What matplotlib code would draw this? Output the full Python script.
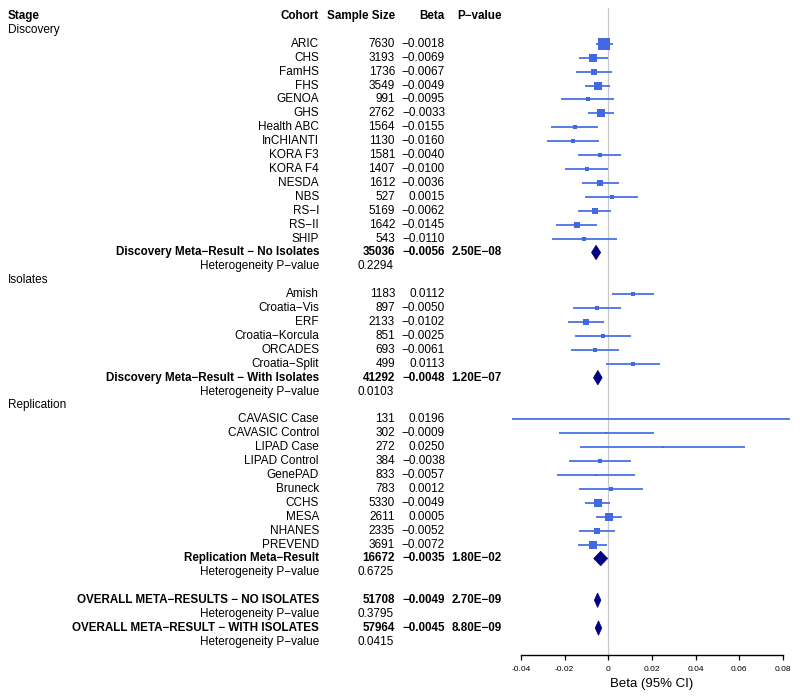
import matplotlib
matplotlib.use('Agg')
import matplotlib.pyplot as plt
from matplotlib.transforms import blended_transform_factory
from matplotlib.patches import Polygon

plt.rcParams['font.family'] = ['Liberation Sans', 'DejaVu Sans']

M = '\u2212'

# ---------------- data ----------------
disc_cohorts = ['ARIC', 'CHS', 'FamHS', 'FHS', 'GENOA', 'GHS', 'Health ABC', 'InCHIANTI',
                'KORA F3', 'KORA F4', 'NESDA', 'NBS', 'RS' + M + 'I', 'RS' + M + 'II', 'SHIP']
disc_n = [7630, 3193, 1736, 3549, 991, 2762, 1564, 1130, 1581, 1407, 1612, 527, 5169, 1642, 543]
disc_beta = [-0.0018, -0.0069, -0.0067, -0.0049, -0.0095, -0.0033, -0.0155, -0.0160,
             -0.0040, -0.0100, -0.0036, 0.0015, -0.0062, -0.0145, -0.0110]
disc_lo = [-0.0057, -0.0136, -0.0149, -0.0106, -0.0218, -0.0093, -0.0264, -0.0279,
           -0.0139, -0.0199, -0.0119, -0.0107, -0.0138, -0.0238, -0.0260]
disc_hi = [0.0021, -0.0002, 0.0015, 0.0008, 0.0028, 0.0027, -0.0046, -0.0041,
           0.0059, -0.0001, 0.0047, 0.0137, 0.0014, -0.0052, 0.0040]

iso_cohorts = ['Amish', 'Croatia' + M + 'Vis', 'ERF', 'Croatia' + M + 'Korcula', 'ORCADES',
               'Croatia' + M + 'Split']
iso_n = [1183, 897, 2133, 851, 693, 499]
iso_beta = [0.0112, -0.0050, -0.0102, -0.0025, -0.0061, 0.0113]
iso_lo = [0.0016, -0.0160, -0.0184, -0.0155, -0.0171, -0.0009]
iso_hi = [0.0208, 0.0060, -0.0020, 0.0105, 0.0049, 0.0235]

rep_cohorts = ['CAVASIC Case', 'CAVASIC Control', 'LIPAD Case', 'LIPAD Control', 'GenePAD',
               'Bruneck', 'CCHS', 'MESA', 'NHANES', 'PREVEND']
rep_n = [131, 302, 272, 384, 833, 783, 5330, 2611, 2335, 3691]
rep_beta = [0.0196, -0.0009, 0.0250, -0.0038, -0.0057, 0.0012, -0.0049, 0.0005, -0.0052, -0.0072]
rep_lo = [-0.0443, -0.0227, -0.0128, -0.0182, -0.0235, -0.0135, -0.0106, -0.0055, -0.0133, -0.0139]
rep_hi = [0.0835, 0.0209, 0.0628, 0.0106, 0.0121, 0.0159, 0.0008, 0.0065, 0.0029, -0.0005]

summary_labels = ['Discovery Meta' + M + 'Result ' + M + ' No Isolates',
                  'Discovery Meta' + M + 'Result ' + M + ' With Isolates',
                  'Replication Meta' + M + 'Result',
                  'OVERALL META' + M + 'RESULTS ' + M + ' NO ISOLATES',
                  'OVERALL META' + M + 'RESULT ' + M + ' WITH ISOLATES']
summary_n = [35036, 41292, 16672, 51708, 57964]
summary_beta = [-0.0056, -0.0048, -0.0035, -0.0049, -0.0045]
summary_p = ['2.50E' + M + '08', '1.20E' + M + '07', '1.80E' + M + '02',
             '2.70E' + M + '09', '8.80E' + M + '09']
summary_lo = [-0.0077, -0.0068, -0.0067, -0.0064, -0.0060]
summary_hi = [-0.0035, -0.0028, -0.0003, -0.0034, -0.0030]
het_p = ['0.2294', '0.0103', '0.6725', '0.3795', '0.0415']

stages = ['Discovery', 'Isolates', 'Replication']
xticks = [-0.04, -0.02, 0, 0.02, 0.04, 0.06, 0.08]
xtick_labels = ['-0.04', '-0.02', '0', '0.02', '0.04', '0.06', '0.08']

# ---------------- row layout ----------------
rows = []  # (kind, payload)
rows.append(('header', None))
rows.append(('stage', stages[0]))
for k in range(len(disc_cohorts)):
    rows.append(('study', (disc_cohorts[k], disc_n[k], disc_beta[k], disc_lo[k], disc_hi[k])))
rows.append(('summary', 0)); rows.append(('het', 0))
rows.append(('stage', stages[1]))
for k in range(len(iso_cohorts)):
    rows.append(('study', (iso_cohorts[k], iso_n[k], iso_beta[k], iso_lo[k], iso_hi[k])))
rows.append(('summary', 1)); rows.append(('het', 1))
rows.append(('stage', stages[2]))
for k in range(len(rep_cohorts)):
    rows.append(('study', (rep_cohorts[k], rep_n[k], rep_beta[k], rep_lo[k], rep_hi[k])))
rows.append(('summary', 2)); rows.append(('het', 2))
rows.append(('blank', None))
rows.append(('summary', 3)); rows.append(('het', 3))
rows.append(('summary', 4)); rows.append(('het', 4))

# ---------------- figure ----------------
W, H = 800, 700
fig = plt.figure(figsize=(W / 100, H / 100), dpi=100)
fig.patch.set_facecolor('white')

row0_px, row_step = 16.0, 13.91
top_px, axis_px = 5.0, 655.0
x_left_px, x_right_px = 510.2, 793.6
xlim = (-0.045, 0.085)
y_top = (top_px - row0_px) / row_step
y_bot = (axis_px - row0_px) / row_step

ax = fig.add_axes([x_left_px / W, 1 - axis_px / H,
                   (x_right_px - x_left_px) / W, (axis_px - top_px) / H])
ax.set_xlim(*xlim)
ax.set_ylim(y_bot, y_top)
ax.patch.set_visible(False)
for s in ['top', 'left', 'right']:
    ax.spines[s].set_visible(False)
ax.spines['bottom'].set_bounds(-0.04, 0.08)
ax.spines['bottom'].set_linewidth(1.0)
ax.set_yticks([])
ax.set_xticks(xticks)
ax.set_xticklabels(xtick_labels, fontsize=6)
ax.tick_params(axis='x', length=3.6, width=0.9, pad=4)
ax.set_xlabel('Beta (95% CI)', fontsize=9.5, labelpad=4)

zero_top = (8 - row0_px) / row_step
ax.plot([0, 0], [y_bot, zero_top], color='#c8c8c8', lw=0.9, zorder=0, clip_on=False)

tr = blended_transform_factory(fig.transFigure, ax.transData)
fs = 8.5
fsb = 8.4
box_col = '#4169E1'
line_col = '#4a72e6'
sum_col = '#000080'
px_per_pt = 100 / 72.0
diamond_half = 0.52

X_STAGE, X_COH, X_N, X_HET, X_BETA, X_P = 8, 319, 395, 357, 445, 502

for i, (kind, p) in enumerate(rows):
    y = i
    if kind == 'header':
        ax.text(X_STAGE / W, y, 'Stage', transform=tr, ha='left', va='center', fontsize=fsb, fontweight='bold')
        ax.text(X_COH / W, y, 'Cohort', transform=tr, ha='right', va='center', fontsize=fsb, fontweight='bold')
        ax.text(X_N / W, y, 'Sample Size', transform=tr, ha='right', va='center', fontsize=fsb, fontweight='bold')
        ax.text(X_BETA / W, y, 'Beta', transform=tr, ha='right', va='center', fontsize=fsb, fontweight='bold')
        ax.text(X_P / W, y, 'P' + M + 'value', transform=tr, ha='right', va='center', fontsize=fsb, fontweight='bold')
    elif kind == 'stage':
        ax.text(X_STAGE / W, y, p, transform=tr, ha='left', va='center', fontsize=fs)
    elif kind == 'study':
        name, n, b, lo, hi = p
        ax.text(X_COH / W, y, name, transform=tr, ha='right', va='center', fontsize=fs)
        ax.text(X_N / W, y, str(n), transform=tr, ha='right', va='center', fontsize=fs)
        ax.text(X_BETA / W, y, f'{b:.4f}'.replace('-', M), transform=tr, ha='right', va='center', fontsize=fs)
        ax.plot([lo, hi], [y, y], color=line_col, lw=1.3, solid_capstyle='butt', zorder=2, clip_on=False)
        half = (hi - lo) / 2
        side_px = 0.047 / half
        side_pt = side_px / px_per_pt
        ax.scatter([b], [y], s=side_pt ** 2, marker='s', color=box_col, linewidths=0, zorder=3)
    elif kind == 'summary':
        k = p
        ax.text(X_COH / W, y, summary_labels[k], transform=tr, ha='right', va='center', fontsize=fsb, fontweight='bold')
        ax.text(X_N / W, y, str(summary_n[k]), transform=tr, ha='right', va='center', fontsize=fsb, fontweight='bold')
        ax.text(X_BETA / W, y, f'{summary_beta[k]:.4f}'.replace('-', M), transform=tr, ha='right', va='center', fontsize=fsb, fontweight='bold')
        ax.text(X_P / W, y, summary_p[k], transform=tr, ha='right', va='center', fontsize=fsb, fontweight='bold')
        b, lo, hi = summary_beta[k], summary_lo[k], summary_hi[k]
        poly = Polygon([(lo, y), (b, y - diamond_half), (hi, y), (b, y + diamond_half)],
                       closed=True, facecolor=sum_col, edgecolor=sum_col, lw=0.5, zorder=3)
        ax.add_patch(poly)
    elif kind == 'het':
        ax.text(X_COH / W, y, 'Heterogeneity P' + M + 'value', transform=tr, ha='right', va='center', fontsize=fs)
        ax.text(X_HET / W, y, het_p[p], transform=tr, ha='left', va='center', fontsize=fs)

fig.savefig('out.png', dpi=100, facecolor='white')
